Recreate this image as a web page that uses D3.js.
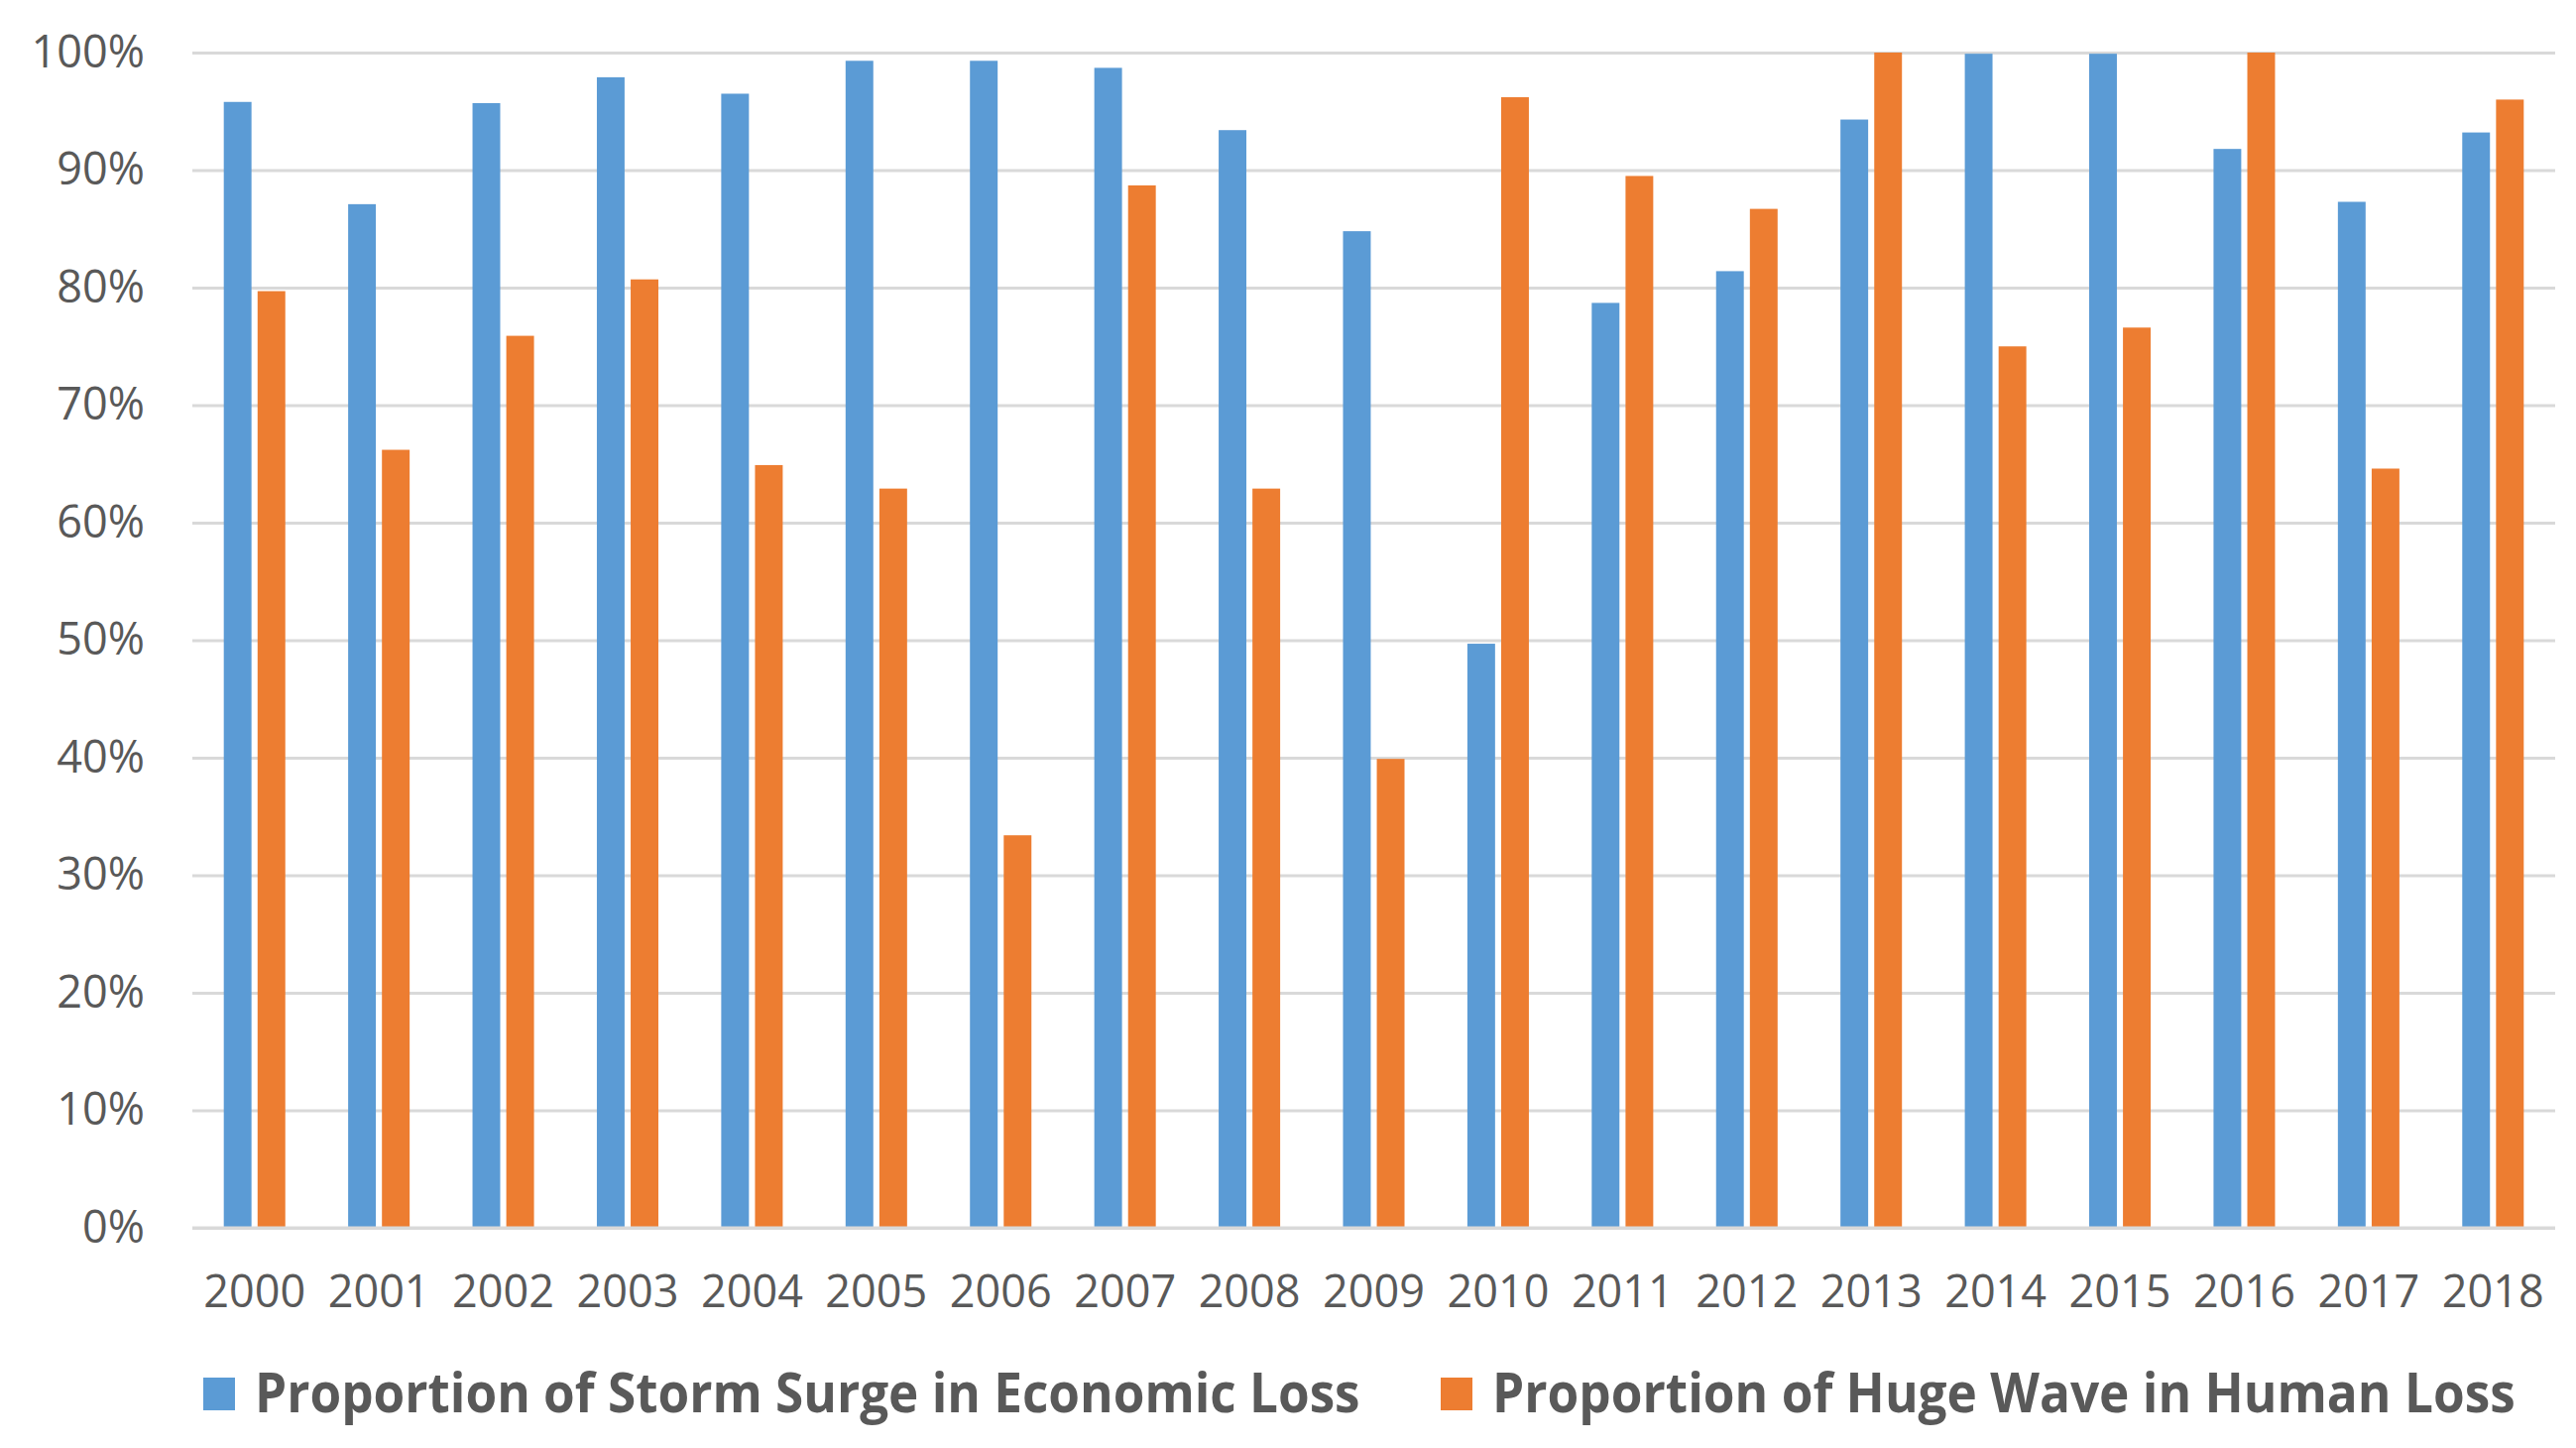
<!DOCTYPE html>
<html>
<head>
<meta charset="utf-8">
<script src="https://cdn.jsdelivr.net/npm/d3@7"></script>
<style>
  body { margin: 0; background: #ffffff; }
</style>
</head>
<body>
<div id="chart"></div>
<script>
// chart data
const years = ["2000","2001","2002","2003","2004","2005","2006","2007","2008","2009",
               "2010","2011","2012","2013","2014","2015","2016","2017","2018"];
const stormSurge = [95.8, 87.1, 95.7, 97.9, 96.5, 99.3, 99.3, 98.7, 93.4, 84.8,
                    49.7, 78.7, 81.4, 94.3, 99.9, 99.9, 91.8, 87.3, 93.2];
const hugeWave = [79.7, 66.2, 75.9, 80.7, 64.9, 62.9, 33.4, 88.7, 62.9, 39.9,
                  96.2, 89.5, 86.7, 100, 75.0, 76.6, 100, 64.6, 96.0];
const seriesNames = ["Proportion of Storm Surge in Economic Loss",
                     "Proportion of Huge Wave in Human Loss"];
const yTicks = [0, 10, 20, 30, 40, 50, 60, 70, 80, 90, 100];

//set svg parameters
const width_ = 2598,
      height_ = 1460;
const margin = {top: 53, right: 21, bottom: 222, left: 194};
const colors = ["#5B9BD5", "#ED7D31"];
const font = "'Open Sans', 'Noto Sans', sans-serif";

const svg = d3.select("#chart")
  .append("svg")
    .attr("width", width_)
    .attr("height", height_);

// scales
const x = d3.scaleBand()
    .domain(years)
    .range([margin.left, width_ - margin.right]);

const xInner = d3.scaleBand()
    .domain([0, 1])
    .range([0, x.bandwidth()])
    .paddingInner(0.18)
    .paddingOuter(0.93);

const y = d3.scaleLinear()
    .domain([0, 100])
    .range([height_ - margin.bottom, margin.top]);

// gridlines
const grid = svg.append("g")
  .attr("transform", `translate(${margin.left},0)`)
  .call(d3.axisLeft(y)
    .tickValues(yTicks)
    .tickSize(-(width_ - margin.left - margin.right))
    .tickFormat(""));
grid.select(".domain").remove();
grid.selectAll("line")
  .attr("stroke", "#d9d9d9")
  .attr("stroke-width", 3);

// y labels
const yAxis = svg.append("g")
  .attr("transform", `translate(${margin.left - 48},0)`)
  .call(d3.axisLeft(y)
    .tickValues(yTicks)
    .tickSize(0)
    .tickPadding(0)
    .tickFormat(d => d + "%"));
yAxis.select(".domain").remove();
yAxis.selectAll("text")
  .style("font-family", font)
  .style("font-size", "45px")
  .attr("fill", "#595959");

// bars
const rows = years.map((yr, i) => ({year: yr, values: [stormSurge[i], hugeWave[i]]}));

svg.append("g")
  .selectAll("g")
  .data(rows)
  .join("g")
    .attr("transform", d => `translate(${x(d.year)},0)`)
  .selectAll("rect")
  .data(d => d.values.map((v, k) => ({k: k, v: v})))
  .join("rect")
    .attr("x", d => xInner(d.k))
    .attr("width", xInner.bandwidth())
    .attr("y", d => y(d.v))
    .attr("height", d => y(0) - y(d.v))
    .attr("fill", d => colors[d.k]);

// baseline
svg.append("line")
  .attr("x1", margin.left)
  .attr("x2", width_ - margin.right)
  .attr("y1", y(0))
  .attr("y2", y(0))
  .attr("stroke", "#d9d9d9")
  .attr("stroke-width", 3);

// x labels
const xAxis = svg.append("g")
  .attr("transform", `translate(0,${y(0)})`)
  .call(d3.axisBottom(x).tickSize(0).tickPadding(48));
xAxis.select(".domain").remove();
xAxis.selectAll("text")
  .style("font-family", font)
  .style("font-size", "45px")
  .attr("fill", "#595959");

// legend (text squeezed horizontally like the condensed original font)
const legendItems = [
  {name: seriesNames[0], box: 205, text: 257, len: 1115},
  {name: seriesNames[1], box: 1453, text: 1505, len: 1032}
];
const legend = svg.append("g").attr("class", "legend");
legendItems.forEach(function(d, i) {
  legend.append("rect")
    .attr("x", d.box)
    .attr("y", 1389)
    .attr("width", 32)
    .attr("height", 33)
    .attr("fill", colors[i]);
  const t = legend.append("text")
    .attr("x", 0)
    .attr("y", 0)
    .style("font-family", font)
    .style("font-size", "56px")
    .style("font-weight", "bold")
    .attr("fill", "#595959")
    .text(d.name);
  const natural = t.node().getComputedTextLength();
  t.attr("transform", `translate(${d.text},1424) scale(${d.len / natural},1)`);
});
</script>
</body>
</html>
